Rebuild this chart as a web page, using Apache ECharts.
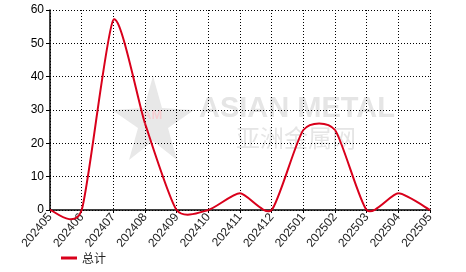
<!DOCTYPE html>
<html><head><meta charset="utf-8">
<script src="https://cdn.jsdelivr.net/npm/echarts@6/dist/echarts.min.js"></script>
<style>html,body{margin:0;padding:0;background:#fff}#c{width:466px;height:272px}</style>
</head><body><div id="c"></div>
<script>
const categories = ['202405','202406','202407','202408','202409','202410','202411','202412','202501','202502','202503','202504','202505'];
const totalValues = [0, 0, 57, 26, 0, 0, 5, 0, 24, 24, 0, 5, 0];
const seriesName = '总计';
const yTicks = {min: 0, max: 60, interval: 10};

const tension = 0.11;
const lineColor = '#d9001b';

function renderSegment(params, api) {
  const i = params.dataIndex;
  const n = totalValues.length;
  if (i >= n - 1) return null;
  const P = k => api.coord([Math.max(0, Math.min(n - 1, k)), totalValues[Math.max(0, Math.min(n - 1, k))]]);
  const p0 = P(i - 1), p1 = P(i), p2 = P(i + 1), p3 = P(i + 2);
  const cp1 = [p1[0] + tension * (p2[0] - p0[0]), p1[1] + tension * (p2[1] - p0[1])];
  const cp2 = [p2[0] - tension * (p3[0] - p1[0]), p2[1] - tension * (p3[1] - p1[1])];
  return {
    type: 'bezierCurve',
    shape: {x1: p1[0], y1: p1[1], x2: p2[0], y2: p2[1], cpx1: cp1[0], cpy1: cp1[1], cpx2: cp2[0], cpy2: cp2[1]},
    style: {stroke: lineColor, lineWidth: 2, fill: null}
  };
}

const chart = echarts.init(document.getElementById('c'), null, {renderer: 'canvas'});
chart.setOption({
  animation: false,
  backgroundColor: '#fff',
  graphic: [
    {type: 'polygon', z: 0, shape: {points: [[153,76],[162,108],[194,110],[168,128],[177,160],[153,141],[129,160],[138,128],[112,110],[144,108]]}, style: {fill: '#e8e8e8'}},
    {type: 'text', z: 0, left: 142, top: 109, style: {text: 'AM', fill: '#f6cdd1', font: 'bold 13px Arial'}},
    {type: 'text', z: 0, left: 199, top: 94, style: {text: 'ASIAN METAL', fill: '#e5e5e5', font: 'bold 29px "Liberation Sans", Arial'}},
    {type: 'text', z: 0, left: 236, top: 126, style: {text: '亚洲金属网', fill: '#e5e5e5', font: '24px "Noto Sans CJK SC"'}}
  ],
  grid: {left: 50, right: 36, top: 10, bottom: 62},
  legend: {
    left: 56, bottom: 3, itemWidth: 16, itemHeight: 3, itemGap: 6,
    textStyle: {fontSize: 12, color: '#222', fontFamily: 'Noto Sans CJK SC'},
    data: [{name: seriesName, icon: 'rect'}]
  },
  xAxis: {
    type: 'category', data: categories, boundaryGap: false,
    axisLine: {lineStyle: {color: '#000', width: 1.5}},
    axisTick: {show: true, length: 3, lineStyle: {color: '#000'}},
    axisLabel: {rotate: 50, fontSize: 12, color: '#222', margin: 5, interval: 0, fontFamily: 'Liberation Sans, Arial'},
    splitLine: {show: true, lineStyle: {color: '#000', type: [1, 2], width: 1}}
  },
  yAxis: {
    type: 'value', min: yTicks.min, max: yTicks.max, interval: yTicks.interval,
    axisLine: {show: true, lineStyle: {color: '#000', width: 1.5}},
    axisTick: {show: true, length: 4, lineStyle: {color: '#000'}},
    axisLabel: {fontSize: 12, color: '#000', margin: 6, fontFamily: 'Liberation Sans, Arial'},
    splitLine: {show: true, lineStyle: {color: '#000', type: [1, 2], width: 1}}
  },
  series: [{
    name: seriesName, type: 'custom', z: 5, clip: false,
    data: totalValues.map((v, i) => [i, v]),
    encode: {x: 0, y: 1},
    itemStyle: {color: lineColor},
    renderItem: renderSegment
  }]
});
</script></body></html>
